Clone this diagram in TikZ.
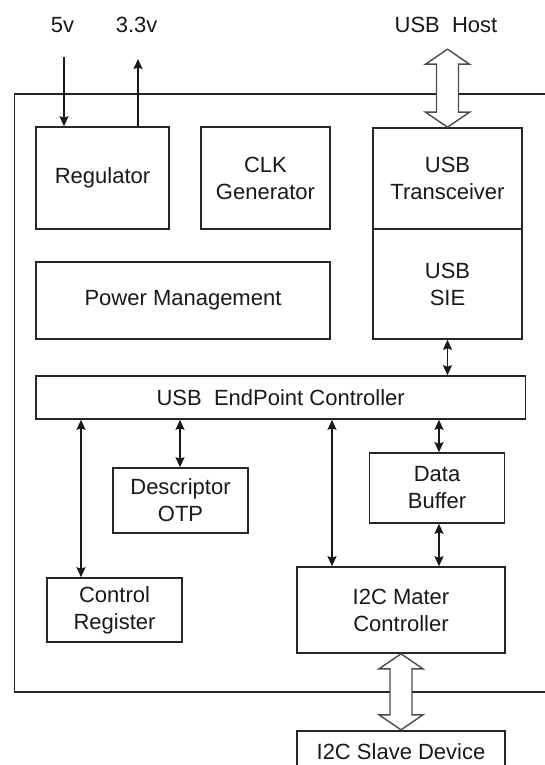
\documentclass[tikz,border=0pt]{standalone}
\usepackage{fontspec}
\setmainfont{Liberation Sans}
\usetikzlibrary{arrows.meta,calc}
\tikzset{
  blk/.style={draw=black!85, line width=1.6pt, inner sep=0pt, align=center,
    font=\fontsize{22}{27}\selectfont, text=black!90},
  lbl/.style={inner sep=0pt, font=\fontsize{22}{27}\selectfont, text=black!90},
  sig/.style={line width=1.5pt, draw=black!90},
  biarrow/.style={sig, {Stealth[length=10pt,width=9pt,inset=1.5pt]}-{Stealth[length=10pt,width=9pt,inset=1.5pt]}},
  onearrow/.style={sig, -{Stealth[length=10pt,width=9pt,inset=1.5pt]}},
  hollow/.style={draw=black!70, fill=white, line width=1.4pt, line join=miter}
}
\begin{document}
\begin{tikzpicture}[x=1pt,y=-1pt]
\useasboundingbox (0,0) rectangle (545,765);
\clip (0,0) rectangle (545,765);
\fill[white] (0,0) rectangle (545,765);
% outer chip box
\draw[line width=1.6pt, draw=black!85] (14.6,94) rectangle (580,691.7);
% labels
\node[lbl, anchor=base] (v5) at (62.6,33) {5v};
\node[lbl, anchor=base] (v33) at (136.6,33) {3.3v};
\node[lbl, anchor=base] (host) at (446,33) {USB\ \ Host};
% blocks
\node[blk, minimum width=133pt, minimum height=102pt] (reg) at (102.5,178) {Regulator};
\node[blk, minimum width=129pt, minimum height=102pt] (clk) at (265.5,178) {CLK\\Generator};
\node[blk, minimum width=294pt, minimum height=77pt] (pm) at (183,300.5) {Power Management};
\node[blk, minimum width=149.5pt, minimum height=101pt] (trans) at (447.5,178.5) {USB\\Transceiver};
\node[blk, minimum width=149.5pt, minimum height=110pt] (sie) at (447.5,284) {USB\\SIE};
\node[blk, minimum width=489.5pt, minimum height=43pt] (epc) at (280.7,397.5) {USB\ \ EndPoint Controller};
\node[blk, minimum width=135pt, minimum height=65pt] (desc) at (180.5,500.5) {Descriptor\\OTP};
\node[blk, minimum width=135pt, minimum height=70pt] (buf) at (437,488) {Data\\Buffer};
\node[blk, minimum width=135pt, minimum height=64pt] (ctrl) at (114.5,610) {Control\\Register};
\node[blk, minimum width=208pt, minimum height=86pt] (i2cm) at (401,610) {I2C Mater\\Controller};
\node[blk, minimum width=208pt, minimum height=80pt] (slave) at (401,770.7) {};
\node[lbl] (slavetxt) at (401,752) {I2C Slave Device};
% coordinates for connector columns
\coordinate (x5) at (64,57);
\coordinate (x33) at (138,59);
\coordinate (xc) at (81,0);
\coordinate (xd) at (180,0);
\coordinate (xi) at (332,0);
\coordinate (xb) at (439,0);
% power arrows
\draw[onearrow] (x5) -- (reg.north -| x5);
\draw[onearrow] (reg.north -| x33) -- (x33);
% data arrows
\draw[biarrow] (sie.south) -- (epc.north -| sie.south);
\draw[biarrow] (epc.south -| xc) -- (ctrl.north -| xc);
\draw[biarrow] (epc.south -| xd) -- (desc.north -| xd);
\draw[biarrow] (epc.south -| xi) -- (i2cm.north -| xi);
\draw[biarrow] (epc.south -| xb) -- (buf.north -| xb);
\draw[biarrow] (buf.south -| xb) -- (i2cm.north -| xb);
% hollow bus arrows
\begin{scope}[shift={(trans.north)}]
\draw[hollow] (0,0) -- (22,-15) -- (11,-15) -- (11,-63) -- (22,-63) -- (0,-78)
  -- (-22,-63) -- (-11,-63) -- (-11,-15) -- (-22,-15) -- cycle;
\end{scope}
\begin{scope}[shift={(i2cm.south)}]
\draw[hollow] (0,0) -- (22,15) -- (11,15) -- (11,61) -- (22,61) -- (0,76)
  -- (-22,61) -- (-11,61) -- (-11,15) -- (-22,15) -- cycle;
\end{scope}
\end{tikzpicture}
\end{document}
